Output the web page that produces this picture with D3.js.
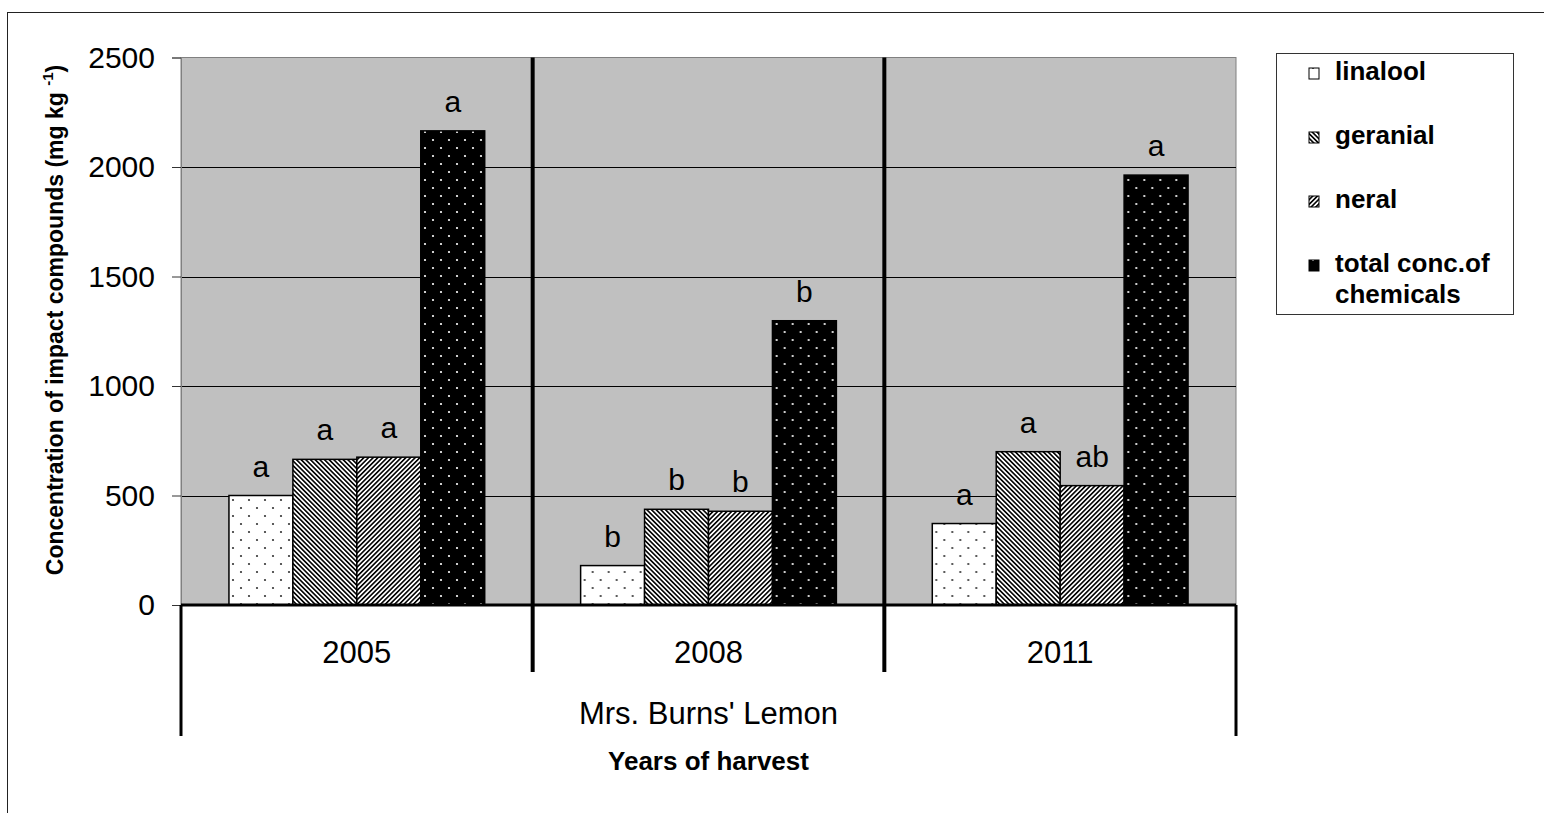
<!DOCTYPE html>
<html>
<head>
<meta charset="utf-8">
<script src="https://cdn.jsdelivr.net/npm/d3@7"></script>
<style>
body { margin: 0; background: #fff; }
svg { display: block; font-family: "Liberation Sans", Arial, sans-serif; }
</style>
</head>
<body>
<svg width="1544" height="813"></svg>
<script>
// data
var years = ["2005", "2008", "2011"];
var series = ["linalool", "geranial", "neral", "total conc.of chemicals"];
var linalool = [500, 180, 372];
var geranial = [665, 437, 700];
var neral = [675, 428, 545];
var total = [2165, 1298, 1963];
var letters = [
  ["a", "b", "a"],
  ["a", "b", "a"],
  ["a", "b", "ab"],
  ["a", "b", "a"]
];
var yTicks = [0, 500, 1000, 1500, 2000, 2500];
var groupLabel = "Mrs. Burns' Lemon";

var values = [linalool, geranial, neral, total];
var fills = ["url(#dotsWhite)", "url(#hatchBack)", "url(#hatchFwd)", "url(#dotsBlack)"];

var svg = d3.select("svg");

var plotLeft = 181, plotRight = 1236, plotTop = 57.5, plotBottom = 605;

var x0 = d3.scaleBand().domain(years).range([plotLeft, plotRight]).padding(0);
var x1 = d3.scaleBand().domain(series).range([0, x0.bandwidth()]).paddingInner(0).paddingOuter(0.75);
var y = d3.scaleLinear().domain([0, 2500]).range([plotBottom, plotTop]);

// patterns
var defs = svg.append("defs");
function dots(id, bg, fg) {
  var p = defs.append("pattern").attr("id", id)
    .attr("patternUnits", "userSpaceOnUse").attr("width", 16).attr("height", 16);
  p.append("rect").attr("width", 16).attr("height", 16).attr("fill", bg);
  p.append("circle").attr("cx", 4).attr("cy", 4).attr("r", 1.1).attr("fill", fg);
  p.append("circle").attr("cx", 12).attr("cy", 12).attr("r", 1.1).attr("fill", fg);
}
dots("dotsWhite", "#fff", "#333");
dots("dotsBlack", "#000", "#fff");
function hatch(id, angle) {
  var p = defs.append("pattern").attr("id", id)
    .attr("patternUnits", "userSpaceOnUse").attr("width", 3.3).attr("height", 10)
    .attr("patternTransform", "rotate(" + angle + ")");
  p.append("rect").attr("width", 3.3).attr("height", 10).attr("fill", "#fff");
  p.append("rect").attr("width", 1.6).attr("height", 10).attr("fill", "#000");
}
hatch("hatchBack", -45);
hatch("hatchFwd", 45);

// outer chart border
svg.append("rect")
  .attr("x", 7.5).attr("y", 12.5).attr("width", 1600).attr("height", 900)
  .attr("fill", "none").attr("stroke", "#222").attr("stroke-width", 1);

// plot area
svg.append("rect")
  .attr("x", plotLeft).attr("y", plotTop).attr("width", plotRight - plotLeft).attr("height", plotBottom - plotTop)
  .attr("fill", "#c0c0c0").attr("stroke", "#808080").attr("stroke-width", 1);

// gridlines
svg.append("g").selectAll("line")
  .data(yTicks.filter(function(d) { return d > 0 && d < 2500; }))
  .enter().append("line")
  .attr("x1", plotLeft).attr("x2", plotRight)
  .attr("y1", function(d) { return Math.round(y(d)) + 0.5; })
  .attr("y2", function(d) { return Math.round(y(d)) + 0.5; })
  .attr("stroke", "#000").attr("stroke-width", 1);

// y axis
var yAxis = svg.append("g")
  .attr("transform", "translate(" + plotLeft + ",0)")
  .call(d3.axisLeft(y).tickValues(yTicks).tickFormat(d3.format("d")).tickSize(9).tickPadding(17));
yAxis.select(".domain").attr("stroke", "#808080");
yAxis.selectAll(".tick line").attr("stroke", "#333");
yAxis.selectAll("text").attr("font-size", 30).attr("fill", "#000")
  .attr("font-family", "Liberation Sans, Arial, sans-serif");

// bars
var groups = svg.append("g").selectAll("g")
  .data(years).enter().append("g")
  .attr("transform", function(d) { return "translate(" + x0(d) + ",0)"; });

series.forEach(function(s, si) {
  groups.append("rect")
    .attr("x", function(d, i) { return x1(s); })
    .attr("y", function(d, i) { return y(values[si][i]); })
    .attr("width", x1.bandwidth())
    .attr("height", function(d, i) { return plotBottom - y(values[si][i]); })
    .attr("fill", fills[si])
    .attr("stroke", "#000").attr("stroke-width", 1.5);

  groups.append("text")
    .attr("x", x1(s) + x1.bandwidth() / 2)
    .attr("y", function(d, i) { return y(values[si][i]) - 19; })
    .attr("text-anchor", "middle")
    .attr("font-size", 30)
    .text(function(d, i) { return letters[si][i]; });
});

// separators between years
svg.append("g").selectAll("line")
  .data(years.slice(1)).enter().append("line")
  .attr("x1", function(d) { return x0(d); }).attr("x2", function(d) { return x0(d); })
  .attr("y1", plotTop).attr("y2", 672)
  .attr("stroke", "#000").attr("stroke-width", 4);

// category axis
svg.append("line")
  .attr("x1", plotLeft).attr("x2", plotRight).attr("y1", plotBottom).attr("y2", plotBottom)
  .attr("stroke", "#000").attr("stroke-width", 3);
svg.append("line")
  .attr("x1", plotLeft).attr("x2", plotLeft).attr("y1", plotBottom).attr("y2", 736)
  .attr("stroke", "#000").attr("stroke-width", 3);
svg.append("line")
  .attr("x1", plotRight).attr("x2", plotRight).attr("y1", plotBottom).attr("y2", 736)
  .attr("stroke", "#000").attr("stroke-width", 3);

svg.append("g").selectAll("text")
  .data(years).enter().append("text")
  .attr("x", function(d) { return x0(d) + x0.bandwidth() / 2; })
  .attr("y", 663)
  .attr("text-anchor", "middle")
  .attr("font-size", 31)
  .text(function(d) { return d; });

svg.append("text")
  .attr("x", (plotLeft + plotRight) / 2).attr("y", 724)
  .attr("text-anchor", "middle").attr("font-size", 31)
  .text(groupLabel);

svg.append("text")
  .attr("x", (plotLeft + plotRight) / 2).attr("y", 770)
  .attr("text-anchor", "middle").attr("font-size", 26).attr("font-weight", "bold")
  .text("Years of harvest");

// y title
var yt = svg.append("text")
  .attr("transform", "translate(63,320) rotate(-90)")
  .attr("text-anchor", "middle")
  .attr("font-size", 23).attr("font-weight", "bold");
yt.append("tspan").text("Concentration of impact compounds (mg kg  ");
yt.append("tspan").attr("font-size", 15).attr("dy", -10).text("-1");
yt.append("tspan").attr("dy", 10).text(")");

// legend
var legend = svg.append("g");
legend.append("rect")
  .attr("x", 1276.5).attr("y", 53.5).attr("width", 237).attr("height", 261)
  .attr("fill", "#fff").attr("stroke", "#333").attr("stroke-width", 1);

var legendLines = [["linalool"], ["geranial"], ["neral"], ["total conc.of", "chemicals"]];
var items = legend.selectAll(".item")
  .data(series).enter().append("g")
  .attr("class", "item")
  .attr("transform", function(d, i) { return "translate(1309," + (80 + i * 64) + ")"; });
items.append("rect")
  .attr("x", 0).attr("y", -12).attr("width", 10).attr("height", 11)
  .attr("fill", function(d, i) { return fills[i]; })
  .attr("stroke", "#000").attr("stroke-width", 1);
items.append("text")
  .attr("x", 26).attr("y", 0)
  .attr("font-size", 26).attr("font-weight", "bold")
  .selectAll("tspan")
  .data(function(d, i) { return legendLines[i]; })
  .enter().append("tspan")
  .attr("x", 26)
  .attr("dy", function(d, j) { return j === 0 ? 0 : 31; })
  .text(function(d) { return d; });
</script>
</body>
</html>
